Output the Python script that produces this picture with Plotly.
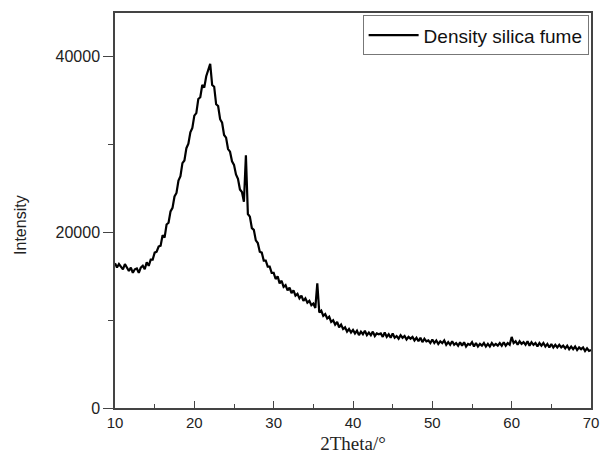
import plotly.graph_objects as go

# 2Theta sampling (degrees), step 0.25 from 10 to 70
two_theta = [10 + 0.25 * i for i in range(241)]

# Intensity (counts)
intensity = [
    16500, 16000, 16400, 16100, 15800, 16400, 15900, 15600, 16000, 15400,
    15800, 15900, 15400, 16000, 16200, 15800, 16600, 16200, 16900, 16900,
    17700, 17800, 18400, 18500, 19700, 19400, 20900, 21100, 22400, 22800,
    24100, 24500, 25900, 26400, 27900, 28200, 29600, 30100, 31400, 31900,
    33300, 33600, 35200, 35400, 36800, 36500, 37800, 38400, 39200, 36800,
    36600, 34600, 34400, 32900, 32500, 31100, 30800, 29500, 29200, 28100,
    27700, 26600, 26100, 24900, 24600, 23500, 28800, 22100, 21800, 20500,
    20300, 19100, 18800, 17800, 17700, 16800, 16800, 16100, 16100, 15400,
    15400, 14700, 15000, 14200, 14500, 13800, 14000, 13400, 13700, 13100,
    13400, 12800, 13000, 12500, 12800, 12200, 12500, 12000, 12200, 11700,
    11900, 11400, 14200, 10900, 11100, 10500, 10700, 10200, 10400, 9800,
    10000, 9500, 9800, 9200, 9500, 9000, 9200, 8700, 9000, 8600,
    8900, 8500, 8800, 8300, 8700, 8400, 8800, 8300, 8600, 8300,
    8700, 8200, 8500, 8400, 8500, 8100, 8600, 8100, 8400, 8000,
    8500, 8000, 8200, 7900, 8300, 8000, 8200, 7800, 8100, 7900,
    8100, 7700, 8000, 7600, 8000, 7500, 7900, 7600, 7700, 7400,
    7800, 7400, 7700, 7300, 7600, 7400, 7700, 7200, 7500, 7200,
    7600, 7200, 7400, 7100, 7500, 7100, 7500, 7000, 7300, 7200,
    7500, 7000, 7400, 7000, 7300, 7100, 7400, 7000, 7300, 7000,
    7400, 7100, 7300, 7100, 7400, 7100, 7500, 7100, 7400, 7200,
    8100, 7400, 7600, 7200, 7600, 7300, 7500, 7200, 7600, 7100,
    7500, 7200, 7400, 7000, 7400, 7100, 7400, 7000, 7300, 6900,
    7300, 6900, 7200, 6900, 7200, 6900, 7100, 6800, 7100, 6700,
    7000, 6700, 7000, 6600, 6900, 6700, 6900, 6500, 6800, 6500,
    6600,
]

x_ticks = [10, 20, 30, 40, 50, 60, 70]
y_ticks = [0, 20000, 40000]

fig = go.Figure()
fig.add_trace(go.Scatter(
    x=two_theta, y=intensity, mode="lines",
    name="Density silica fume",
    line=dict(color="black", width=2.2),
))

axis_color = "#444444"
# page body keeps its default 8px margin, so the figure is sized to fit the window
fig.update_layout(
    width=592, height=446,
    margin=dict(l=107, r=1, t=5, b=43),
    paper_bgcolor="white", plot_bgcolor="white",
    font=dict(family="Liberation Sans, Arial", size=15, color="#222222"),
    showlegend=True,
    legend=dict(
        x=0.995, y=0.994, xanchor="right", yanchor="top",
        bgcolor="white", bordercolor="#777777", borderwidth=1,
        font=dict(size=19, color="#111111"),
        itemwidth=50,
        tracegroupgap=0,
    ),
    xaxis=dict(
        range=[10, 70], tickvals=x_ticks,
        ticks="inside", ticklen=7, tickwidth=1.3, tickcolor=axis_color,
        minor=dict(dtick=5, ticks="inside", ticklen=4, tickcolor=axis_color, tickwidth=1.2),
        showline=True, linecolor=axis_color, linewidth=1.5, mirror=True,
        showgrid=False, zeroline=False,
        ticklabeloverflow="allow",
        title=dict(text="2Theta/°", font=dict(family="Liberation Serif, Times New Roman", size=19, color="#222222"), standoff=9),
        tickfont=dict(size=15),
    ),
    yaxis=dict(
        range=[0, 45000], tickvals=y_ticks, tickformat="d",
        ticks="outside", ticklen=10, tickwidth=1.3, tickcolor=axis_color,
        minor=dict(tickvals=[10000, 30000], ticks="outside", ticklen=5, tickcolor=axis_color, tickwidth=1.2),
        showline=True, linecolor=axis_color, linewidth=1.5, mirror=True,
        showgrid=False, zeroline=False,
        tickfont=dict(size=16),
    ),
    annotations=[dict(
        text="Intensity", textangle=-90, showarrow=False,
        xref="paper", yref="paper", x=-0.2, y=0.463,
        xanchor="center", yanchor="middle",
        font=dict(family="Liberation Sans, Arial", size=16, color="#222222"),
    )],
)

fig.write_html("out.html", config={"displayModeBar": False})
